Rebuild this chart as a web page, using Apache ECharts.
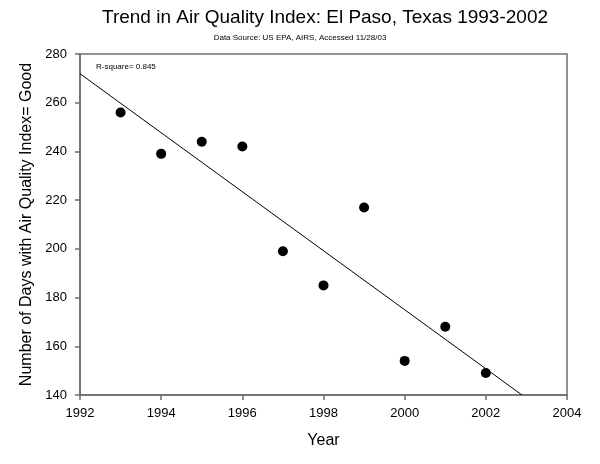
<!DOCTYPE html>
<html>
<head>
<meta charset="utf-8">
<script src="https://cdn.jsdelivr.net/npm/echarts@6/dist/echarts.min.js"></script>
<style>html,body{margin:0;padding:0;background:#fff}#c{width:600px;height:464px}</style>
</head>
<body>
<div id="c"></div>
<script>
const years = [1993, 1994, 1995, 1996, 1997, 1998, 1999, 2000, 2001, 2002];
const goodDays = [256, 239, 244, 242, 199, 185, 217, 154, 168, 149];
const trendYears = [1992, 2002.89];
const trendDays = [271.9, 140];
const xTicks = [1992, 1994, 1996, 1998, 2000, 2002, 2004];
const yTicks = [140, 160, 180, 200, 220, 240, 260, 280];
const titleText = 'Trend in Air Quality Index: El Paso, Texas 1993-2002';
const subText = 'Data Source: US EPA, AIRS, Accessed 11/28/03';
const rsqText = 'R-square= 0.845';

const font = 'Arial, "Liberation Sans", sans-serif';
const axisColor = '#6e6e6e';
const chart = echarts.init(document.getElementById('c'), null, {renderer: 'canvas'});
chart.setOption({
  animation: false,
  backgroundColor: '#ffffff',
  grid: {left: 80, right: 33, top: 54, bottom: 69, show: true, borderColor: axisColor, borderWidth: 1.5, backgroundColor: 'transparent'},
  title: [
    {text: titleText, left: 325, top: 8, padding: 0, textAlign: 'center', textStyle: {fontFamily: font, fontSize: 19, fontWeight: 'normal', color: '#000'}},
    {text: subText, left: 300, top: 34, padding: 0, textAlign: 'center', textStyle: {fontFamily: font, fontSize: 8, fontWeight: 'normal', color: '#000'}},
    {text: rsqText, left: 96, top: 63, padding: 0, textStyle: {fontFamily: font, fontSize: 8, fontWeight: 'normal', color: '#000'}}
  ],
  xAxis: {
    type: 'value', min: xTicks[0], max: xTicks[xTicks.length - 1], interval: 2,
    name: 'Year', nameLocation: 'middle', nameGap: 38,
    nameTextStyle: {fontFamily: font, fontSize: 16, color: '#000'},
    axisLine: {show: true, lineStyle: {color: axisColor, width: 1.5}},
    axisTick: {show: true, inside: false, length: 5, lineStyle: {color: axisColor, width: 1.5}},
    axisLabel: {fontFamily: font, fontSize: 13, color: '#000', margin: 12, formatter: v => String(v)},
    splitLine: {show: false}
  },
  yAxis: {
    type: 'value', min: yTicks[0], max: yTicks[yTicks.length - 1], interval: 20,
    name: 'Number of Days with Air Quality Index= Good', nameLocation: 'middle', nameGap: 40,
    nameTextStyle: {fontFamily: font, fontSize: 16, color: '#000'},
    axisLine: {show: true, lineStyle: {color: axisColor, width: 1.5}},
    axisTick: {show: true, inside: false, length: 5, lineStyle: {color: axisColor, width: 1.5}},
    axisLabel: {fontFamily: font, fontSize: 13, color: '#000', margin: 13},
    splitLine: {show: false}
  },
  series: [
    {
      type: 'line', data: trendYears.map((x, i) => [x, trendDays[i]]),
      showSymbol: false, symbol: 'none', lineStyle: {color: '#000', width: 1}, silent: true, z: 2
    },
    {
      type: 'scatter', data: years.map((x, i) => [x, goodDays[i]]),
      symbol: 'circle', symbolSize: 10, itemStyle: {color: '#000', opacity: 1}, z: 3
    }
  ]
});
</script>
</body>
</html>
